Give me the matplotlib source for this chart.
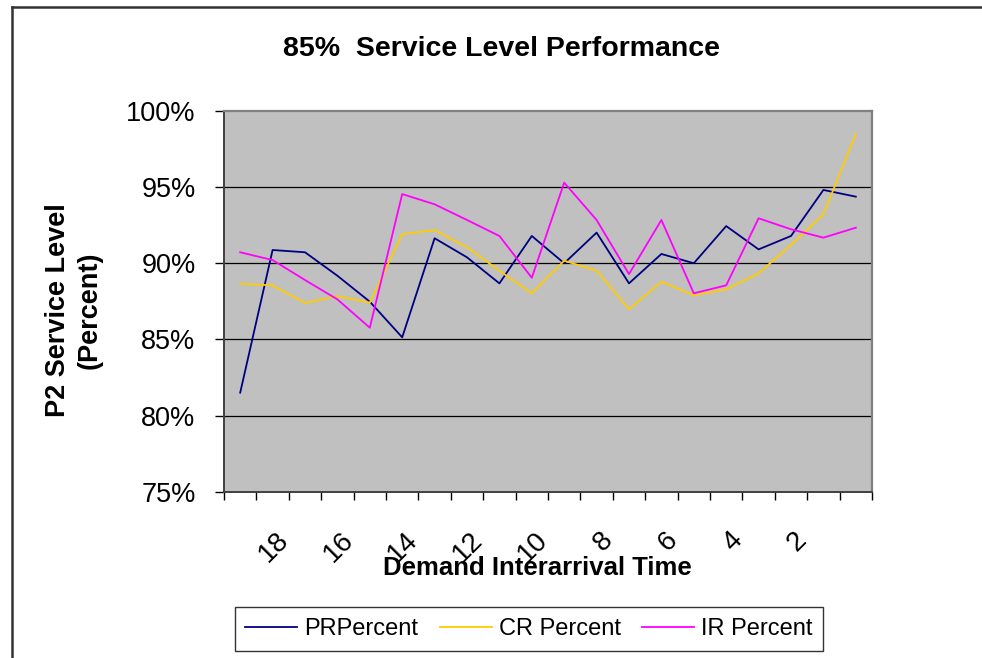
import numpy as np
import matplotlib
matplotlib.use('Agg')
import matplotlib.pyplot as plt
from matplotlib.lines import Line2D
from matplotlib.transforms import ScaledTranslation

plt.rcParams['font.family'] = ['Liberation Sans', 'DejaVu Sans']

# demand interarrival time, plotted from 19 down to 0
interarrival = list(range(19, -1, -1))
tick_labels = [18, 16, 14, 12, 10, 8, 6, 4, 2]

pr_percent = [81.5, 90.86, 90.71, 89.17, 87.47, 85.13, 91.63, 90.38, 88.67, 91.78,
              89.99, 92.0, 88.67, 90.6, 89.99, 92.43, 90.9, 91.78, 94.8, 94.36]
cr_percent = [88.64, 88.54, 87.38, 87.84, 87.4, 91.89, 92.17, 91.04, 89.5, 88.02,
              90.16, 89.5, 86.97, 88.78, 87.89, 88.28, 89.33, 91.19, 93.2, 98.47]
ir_percent = [90.71, 90.2, 88.89, 87.62, 85.76, 94.53, 93.86, 92.83, 91.78, 89.04,
              95.28, 92.83, 89.28, 92.83, 88.02, 88.54, 92.94, 92.22, 91.67, 92.32]

W, H = 982, 658
fig = plt.figure(figsize=(W/100, H/100), dpi=100)
ax = fig.add_axes([224/W, 1-491.7/H, 648/W, 381/H])
ax.set_facecolor('#C0C0C0')

ax.plot(interarrival, pr_percent, color='#000080', lw=1.3, label='PRPercent')
ax.plot(interarrival, cr_percent, color='#FFCC00', lw=1.3, label='CR Percent')
ax.plot(interarrival, ir_percent, color='#FF00FF', lw=1.3, label='IR Percent')

ax.set_xlim(19.5, -0.5)
ax.set_ylim(75, 100)

# y axis
yt = [75, 80, 85, 90, 95, 100]
ax.set_yticks(yt)
ax.set_yticklabels(['%d%%' % v for v in yt], fontsize=19.5)
ax.tick_params(axis='y', direction='out', length=6.5, width=1, pad=14, colors='black')
for v in [80, 85, 90, 95]:
    ax.axhline(v, color='black', lw=0.9, zorder=1)

# x axis: boundary ticks as minor, labelled ticks as major with no mark
ax.set_xticks(np.arange(19.5, -1, -1), minor=True)
ax.set_xticks(tick_labels)
ax.set_xticklabels([str(v) for v in tick_labels], fontsize=20, rotation=45,
                   ha='right', va='center', rotation_mode='anchor')
ax.tick_params(axis='x', which='minor', direction='out', length=6, width=1)
ax.tick_params(axis='x', which='major', length=0, pad=32)
off = ScaledTranslation(12/100, 0, fig.dpi_scale_trans)
for lab in ax.get_xticklabels():
    lab.set_transform(lab.get_transform() + off)

for s in ['top', 'right']:
    ax.spines[s].set_color('#808080')
    ax.spines[s].set_linewidth(1.6)
for s in ['left', 'bottom']:
    ax.spines[s].set_color('#404040')
    ax.spines[s].set_linewidth(1.4)

fig.text(501/W, 1-49/H, '85%  Service Level Performance', ha='center', va='center',
         fontsize=20.5, fontweight='bold')
fig.text(74/W, 1-310/H, 'P2 Service Level\n(Percent)', ha='center', va='center',
         rotation=90, fontsize=19.5, fontweight='bold', linespacing=1.3)
fig.text(537/W, 1-568/H, 'Demand Interarrival Time', ha='center', va='center',
         fontsize=18.5, fontweight='bold')

leg = fig.legend(loc='center', bbox_to_anchor=(529/W, 1-629/H), ncol=3, fontsize=17,
                 frameon=True, fancybox=False, edgecolor='black', handlelength=2.2,
                 handletextpad=0.3, columnspacing=0.9, borderpad=0.45)
leg.get_frame().set_linewidth(1.0)

# outer chart frame
fig.add_artist(Line2D([12/W, 12/W], [0, 1-7/H], color='#333333', lw=1.8))
fig.add_artist(Line2D([12/W, 1], [1-7/H, 1-7/H], color='#333333', lw=1.8))

fig.savefig('out.png', dpi=100)
